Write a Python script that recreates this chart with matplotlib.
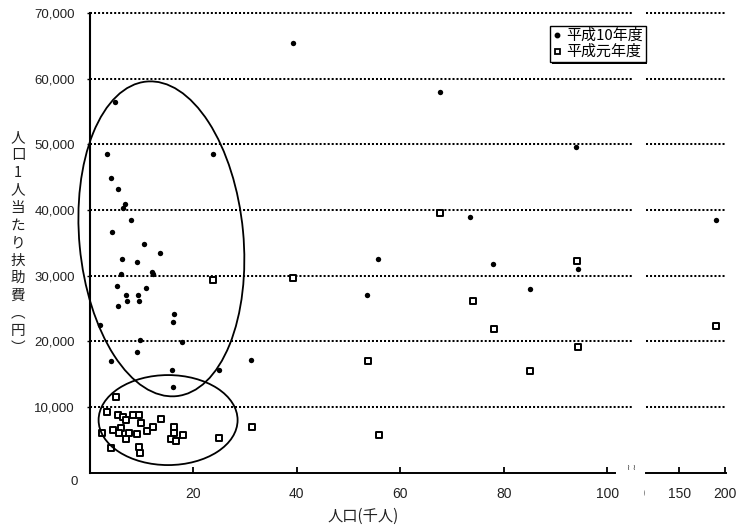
import matplotlib
matplotlib.use("Agg")
import matplotlib.pyplot as plt
from matplotlib.patches import Ellipse
from matplotlib.transforms import Bbox, IdentityTransform
from matplotlib.lines import Line2D
import matplotlib.patheffects as pe
import numpy as np

# ---------------- data ----------------
series_names = ["平成10年度", "平成元年度"]

pop_h10 = [4.9, 3.2, 23.7, 4.15, 5.4, 6.8, 6.3, 8.0, 4.35, 10.5, 13.6, 6.1, 9.0,
           5.9, 11.9, 12.2, 5.25, 10.9, 6.9, 9.2, 7.25, 9.4, 5.5, 16.3, 16.1, 2.0,
           9.6, 17.7, 9.0, 4.0, 15.8, 24.9, 16.1, 31.2, 39.2, 67.6, 73.5, 55.6,
           53.6, 93.9, 94.3, 77.9, 85.0, 189.5]
cost_h10 = [56400, 48500, 48500, 44800, 43200, 40900, 40300, 38500, 36600, 34800,
            33500, 32500, 32000, 30200, 30500, 30200, 28400, 28100, 27000, 27000,
            26100, 26200, 25300, 24100, 22900, 22500, 20200, 19900, 18300, 17000,
            15600, 15600, 13100, 17100, 65400, 57900, 39000, 32500, 27000, 49600,
            31000, 31700, 27900, 38500]

pop_h1 = [5.1, 3.3, 5.45, 6.3, 7.0, 8.3, 9.4, 9.8, 13.8, 16.3, 5.9, 4.4, 2.4, 7.5,
          5.6, 9.1, 11.05, 12.1, 16.3, 17.9, 15.75, 16.6, 7.05, 4.15, 9.4, 9.75,
          25.0, 31.4, 23.8, 39.3, 53.8, 55.8, 67.7, 74.0, 78.2, 94.1, 94.3, 85.1,
          190.0]
cost_h1 = [11500, 9300, 8800, 8400, 8000, 8800, 8800, 7500, 8100, 6900, 6800, 6500,
           6000, 6100, 6000, 5900, 6300, 6900, 6000, 5700, 5100, 4800, 5100, 3800,
           3900, 3000, 5300, 6950, 29400, 29700, 17000, 5700, 39500, 26100, 21800,
           32200, 19100, 15400, 22400]

y_ticks = [10000, 20000, 30000, 40000, 50000, 60000, 70000]
x_ticks_main = [20, 40, 60, 80, 100]
x_ticks_tail = [150, 200]

x_label = "人口(千人)"
y_label_chars = ["人", "口", "1", "人", "当", "た", "り", "扶", "助", "費", "︵", "円", "︶"]

# ---------------- layout ----------------
W, H = 740, 528
fig = plt.figure(figsize=(W / 100, H / 100), dpi=100)
fig.patch.set_facecolor("white")

TICKFONT = "Liberation Sans"
CJK = ["Noto Sans CJK JP", "DejaVu Sans"]

y0_px, ytop_px = 472.6, 13.0
ax1_l, ax1_r = 90.0, 632.0
ax2_l, ax2_r = 645.7, 726.0

ax1 = fig.add_axes([ax1_l / W, 1 - y0_px / H, (ax1_r - ax1_l) / W, (y0_px - ytop_px) / H])
ax2 = fig.add_axes([ax2_l / W, 1 - y0_px / H, (ax2_r - ax2_l) / W, (y0_px - ytop_px) / H])
ax2.patch.set_visible(False)
ax1.set_zorder(2)
ax2.set_zorder(1)

ax1.set_xlim(0, 104.8)
ax2.set_xlim(113.2, 200.9)
for ax in (ax1, ax2):
    ax.set_ylim(0, 70000)
    ax.set_yticks(y_ticks)
    ax.grid(axis="y", color="black", linestyle=(0, (1, 1)), linewidth=1.45)
    for gl in ax.get_ygridlines():
        gl.set_clip_on(False)
    ax.set_axisbelow(True)
    ax.spines["top"].set_visible(False)
    ax.spines["right"].set_visible(False)
    ax.spines["bottom"].set_linewidth(1.4)
    ax.tick_params(axis="x", direction="in", length=4, width=1.3, pad=10.5,
                   labelsize=10, labelcolor="#222222")

ax1.patch.set_visible(False)
ax1.spines["left"].set_linewidth(1.5)
ax1.spines["bottom"].set_bounds(0, 101.5)
ax1.set_xticks(x_ticks_main)
ax1.set_xticklabels([str(v) for v in x_ticks_main], family=TICKFONT)
ax1.set_yticklabels([f"{v:,}" for v in y_ticks], family=TICKFONT, fontsize=9.5,
                    color="#222222")
ax1.tick_params(axis="y", direction="out", length=2.5, width=1, pad=8.5)

ax2.spines["left"].set_visible(False)
ax2.set_xticks(x_ticks_tail)
ax2.set_xticklabels([str(v) for v in x_ticks_tail], family=TICKFONT)
ax2.tick_params(axis="y", left=False, labelleft=False)

# ---------------- marks ----------------
for ax in (ax1, ax2):
    ax.scatter(pop_h10, cost_h10, s=15, marker="o", color="black", linewidths=0,
               zorder=3)
    ax.scatter(pop_h1, cost_h1, s=13, marker="s", facecolors="white",
               edgecolors="black", linewidths=1.4, zorder=3)

# ---------------- annotations ----------------
# "0" label sits slightly below the axis in the original
fig.text(78 / W, 1 - 482 / H, "0", ha="right", va="center", fontsize=9.5,
         family=TICKFONT, color="#222222")

# partially hidden "100" label at the start of the second segment
t100 = fig.text(633.6 / W, 1 - 494 / H, "100", ha="center", va="center",
                fontsize=10, family=TICKFONT, color="#222222")
t100.set_clip_box(Bbox.from_extents(644, 0, W, H))
t100.set_clip_on(True)

# axis break marks
fig.text(631 / W, 1 - 468 / H, "≀ ≀", ha="center", va="center", fontsize=6,
         family="DejaVu Sans", color="#333333")

# ellipses (drawn in pixel units, centred on data positions)
fig.canvas.draw()
big_c = ax1.transData.transform((13.8, 35600))
small_c = ax1.transData.transform((15.1, 8000))
fig.add_artist(Ellipse(big_c, 164, 316, angle=5.4, fill=False, edgecolor="black",
                       linewidth=1.3, transform=IdentityTransform(), zorder=5))
fig.add_artist(Ellipse(small_c, 139, 90, angle=0, fill=False, edgecolor="black",
                       linewidth=1.3, transform=IdentityTransform(), zorder=5))

# legend
handles = [
    Line2D([], [], marker="o", color="black", linestyle="none", markersize=3.2),
    Line2D([], [], marker="s", markerfacecolor="white", markeredgecolor="black",
           markeredgewidth=1.3, linestyle="none", markersize=3.6),
]
leg = ax1.legend(handles, series_names, loc="center",
                 bbox_to_anchor=(598 / W, 1 - 44 / H), bbox_transform=fig.transFigure,
                 prop={"family": CJK, "size": 10.8}, frameon=True, fancybox=False,
                 framealpha=1.0, handlelength=0.5, handletextpad=0.35, borderpad=0.2,
                 labelspacing=0.12, borderaxespad=0)
frame = leg.get_frame()
frame.set_facecolor("white")
frame.set_edgecolor("black")
frame.set_linewidth(1.0)
frame.set_path_effects([pe.SimplePatchShadow(offset=(1.1, -1.1), shadow_rgbFace="black",
                                             alpha=1.0), pe.Normal()])

# axis labels
fig.text(363 / W, 1 - 516 / H, x_label, ha="center", va="center", fontsize=11,
         family=CJK, color="#222222")
for i, ch in enumerate(y_label_chars):
    fig.text(18 / W, 1 - (138 + 17.5 * i) / H, ch, ha="center", va="center",
             fontsize=10.5, family=CJK, color="#222222")

fig.savefig("out.png", dpi=100)
